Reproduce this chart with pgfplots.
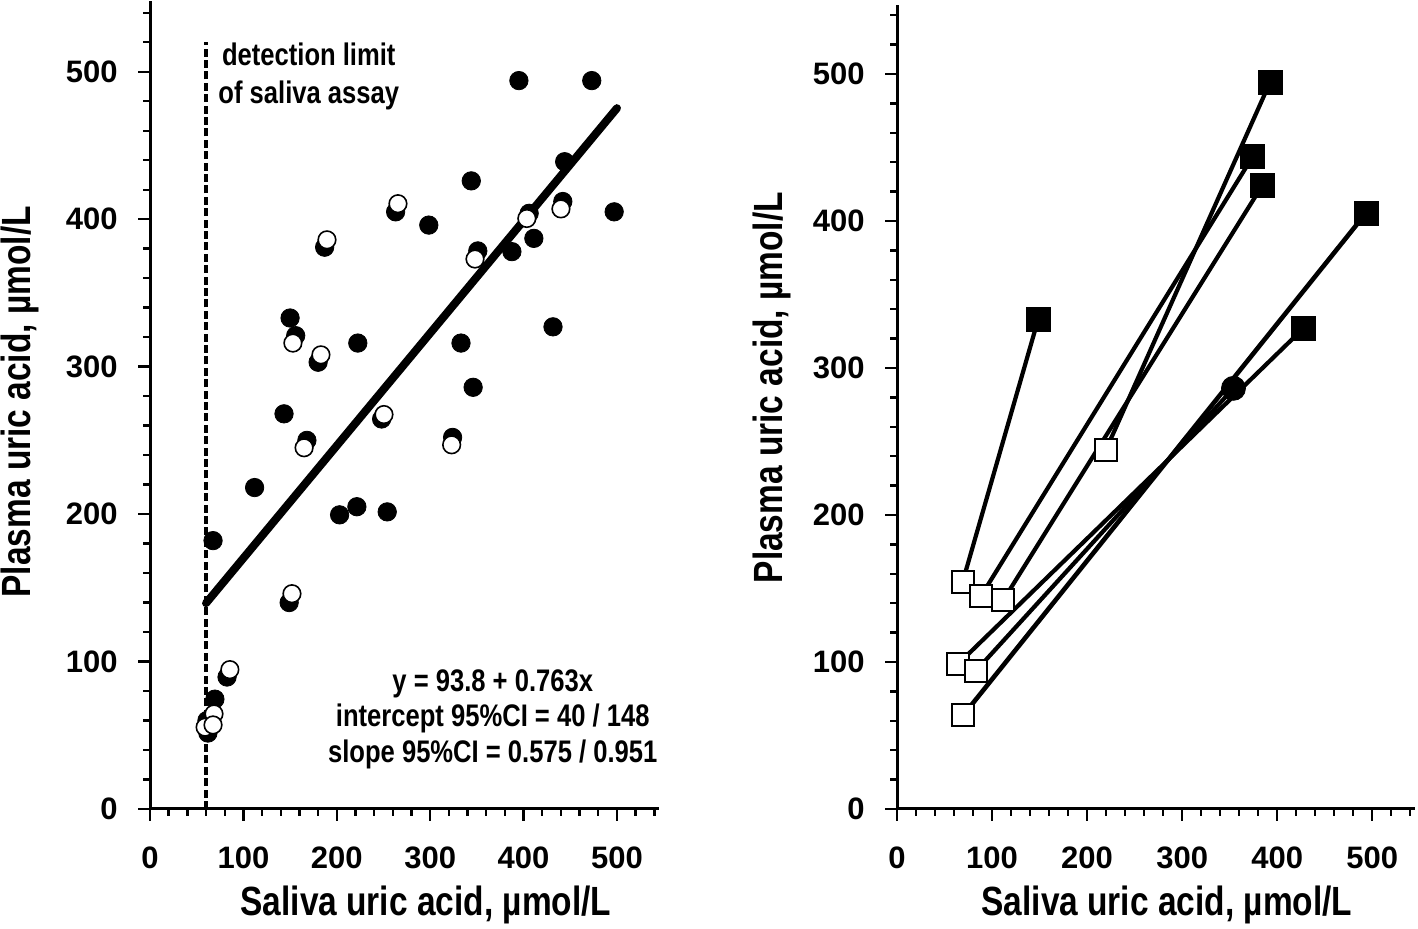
\documentclass[border=0pt]{standalone}
\usepackage{fontspec}
\setmainfont{Liberation Sans}[FakeStretch=0.82]
\newfontfamily\tickfont{Liberation Sans}
\usepackage{pgfplots}
\pgfplotsset{compat=1.18}

\pgfplotstableread{
x y
395 494
473 494
444 439
344 426
442 412
263 405
497 405
406 404
298.5 396
351 378.5
387.5 378
411 387
431.5 327
222.5 316
333 316
346 286
187 381
150 333
156 321
180 303
143.5 268
168 250
248 264.5
324 252
112 218
203 199.5
221.5 205
254 201.5
67.5 182
149 140
82.5 89.5
69.5 74.5
62 51.5
61 60
}\filledleft

\pgfplotstableread{
x y
265.5 410.5
403.5 400.5
440 407
348 373
189.5 386
153 316
183 308
165 245
250.5 267.5
323 247
152 146
85.5 94.5
68.5 64.5
59 55.5
67.5 57
}\openleft

\pgfplotstableread{
x y
69.1 154.6
88.4 144.9
111.9 142.2
219.7 244.2
63.9 98.4
83.2 94.1
69.8 63.9
}\openright

\pgfplotstableread{
x y
148.6 333.3
374.4 444
384.6 424.5
392.6 494.6
427.5 327
493.4 405.4
}\filledright

\pgfplotsset{
  myax/.style={
    scale only axis, anchor=south west, clip=false,
    axis lines=left, axis line style={-, line width=1.5pt, black},
    xmin=0, ymin=0,
    xtick={0,100,...,500}, ytick={0,100,...,500},
    minor xtick={0,20,...,540}, minor ytick={0,20,...,540},
    tick align=outside, major tick length=6pt, minor tick length=3.5pt,
    tick style={line width=1.2pt, black},
    tick label style={font=\tickfont\bfseries\fontsize{15.5}{18}\selectfont, inner sep=0pt},
    /pgf/number format/assume math mode=true,
    xticklabel shift=12.5pt, yticklabel shift=10pt,
    label style={font=\bfseries\fontsize{20.4}{24}\selectfont},
  }
}

\begin{document}
\begin{tikzpicture}
\useasboundingbox (0,0) rectangle (709pt,464.5pt);
% left panel
\begin{axis}[myax, at={(75pt,60pt)}, width=254.5pt, height=404pt,
  xmax=545, ymax=548,
  xlabel={Saliva uric acid, µmol/L},
  ylabel={Plasma uric acid, µmol/L},
  xlabel style={at={(axis description cs:0.542,0)}, anchor=center, yshift=-48pt},
  ylabel style={at={(axis description cs:-0.255,0.504)}, anchor=center, rotate=0},
]
\addplot[black, line width=1.7pt, dash pattern=on 4pt off 1.7pt] coordinates {(60,0) (60,520)};
\addplot[only marks, mark=*, mark size=4.6pt, black] table {\filledleft};
\addplot[only marks, mark=*, mark size=4.4pt, draw=black, fill=white, line width=0.8pt] table {\openleft};
\addplot[black, line width=4pt, line cap=round] coordinates {(60,139.6) (500,475.3)};
\node[align=center, font=\bfseries\fontsize{15.6}{19}\selectfont] at (axis cs:170,497) {detection limit\\of saliva assay};
\node[align=center, font=\bfseries\fontsize{15.6}{17.8}\selectfont] at (axis cs:367,61) {y = 93.8 + 0.763x\\intercept 95\%CI = 40 / 148\\slope 95\%CI = 0.575 / 0.951};
\end{axis}
% right panel
\begin{axis}[myax, at={(448.5pt,60pt)}, width=259pt, height=402pt,
  xmax=545, ymax=547,
  xlabel={Saliva uric acid, µmol/L},
  ylabel={Plasma uric acid, µmol/L},
  xlabel style={at={(axis description cs:0.521,0)}, anchor=center, yshift=-48pt},
  ylabel style={at={(axis description cs:-0.241,0.524)}, anchor=center, rotate=0},
]
\addplot[black, line width=2.1pt] coordinates {(69.1,154.6) (148.6,333.3)};
\addplot[black, line width=2.1pt] coordinates {(88.4,144.9) (374.4,444)};
\addplot[black, line width=2.1pt] coordinates {(111.9,142.2) (384.6,424.5)};
\addplot[black, line width=2.1pt] coordinates {(219.7,244.2) (392.6,494.6)};
\addplot[black, line width=2.1pt] coordinates {(63.9,98.4) (427.5,327)};
\addplot[black, line width=2.1pt] coordinates {(83.2,94.1) (354,286.2)};
\addplot[black, line width=2.3pt] coordinates {(69.8,63.9) (493.4,405.4)};
\addplot[only marks, mark=square*, mark size=5.5pt, draw=black, fill=white, line width=1pt] table {\openright};
\addplot[only marks, mark=square*, mark size=6pt, black] table {\filledright};
\addplot[only marks, mark=*, mark size=6pt, black] coordinates {(354,286.2)};
\end{axis}
\end{tikzpicture}
\end{document}
